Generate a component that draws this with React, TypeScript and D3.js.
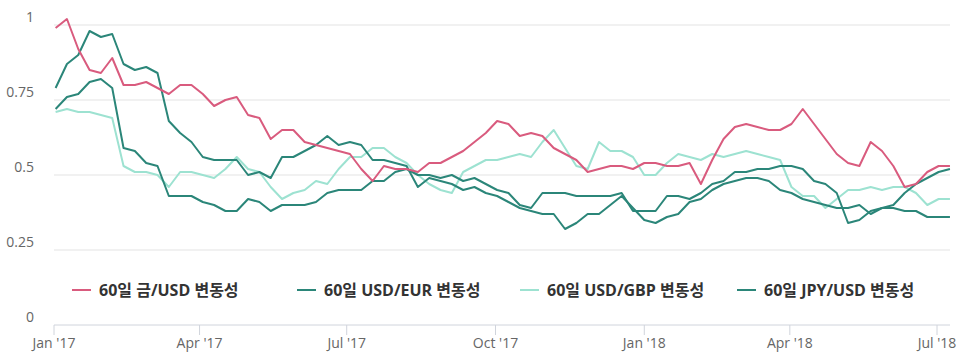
import React from "react";
import * as d3 from "d3";

// weekly readings, starting 2017-01-02
const startDate = new Date(2017, 0, 2);

const goldUsd = [
  0.99, 1.02, 0.92, 0.85, 0.84, 0.89, 0.8, 0.8, 0.81, 0.79,
  0.77, 0.8, 0.8, 0.77, 0.73, 0.75, 0.76, 0.7, 0.69, 0.62,
  0.65, 0.65, 0.61, 0.6, 0.59, 0.58, 0.57, 0.52, 0.48, 0.53,
  0.52, 0.52, 0.51, 0.54, 0.54, 0.56, 0.58, 0.61, 0.64, 0.68,
  0.67, 0.63, 0.64, 0.63, 0.59, 0.57, 0.55, 0.51, 0.52, 0.53,
  0.53, 0.52, 0.54, 0.54, 0.53, 0.53, 0.54, 0.47, 0.55, 0.62,
  0.66, 0.67, 0.66, 0.65, 0.65, 0.67, 0.72, 0.67, 0.62, 0.57,
  0.54, 0.53, 0.61, 0.58, 0.53, 0.46, 0.47, 0.51, 0.53, 0.53,
];

const usdEur = [
  0.79, 0.87, 0.9, 0.98, 0.96, 0.97, 0.87, 0.85, 0.86, 0.84,
  0.68, 0.64, 0.61, 0.56, 0.55, 0.55, 0.55, 0.5, 0.51, 0.49,
  0.56, 0.56, 0.58, 0.6, 0.63, 0.6, 0.61, 0.6, 0.55, 0.55,
  0.54, 0.53, 0.46, 0.49, 0.48, 0.47, 0.45, 0.46, 0.44, 0.43,
  0.41, 0.39, 0.38, 0.37, 0.37, 0.32, 0.34, 0.37, 0.37, 0.4,
  0.43, 0.39, 0.35, 0.34, 0.36, 0.37, 0.41, 0.42, 0.45, 0.47,
  0.48, 0.49, 0.49, 0.48, 0.45, 0.44, 0.42, 0.41, 0.4, 0.39,
  0.39, 0.4, 0.37, 0.39, 0.39, 0.38, 0.38, 0.36, 0.36, 0.36,
];

const usdGbp = [
  0.71, 0.72, 0.71, 0.71, 0.7, 0.69, 0.53, 0.51, 0.51, 0.5,
  0.46, 0.51, 0.51, 0.5, 0.49, 0.52, 0.56, 0.52, 0.51, 0.46,
  0.42, 0.44, 0.45, 0.48, 0.47, 0.52, 0.56, 0.56, 0.59, 0.59,
  0.56, 0.54, 0.5, 0.47, 0.45, 0.44, 0.51, 0.53, 0.55, 0.55,
  0.56, 0.57, 0.56, 0.61, 0.65, 0.59, 0.53, 0.52, 0.61, 0.58,
  0.58, 0.56, 0.5, 0.5, 0.54, 0.57, 0.56, 0.55, 0.57, 0.56,
  0.57, 0.58, 0.57, 0.56, 0.55, 0.46, 0.43, 0.43, 0.39, 0.42,
  0.45, 0.45, 0.46, 0.45, 0.46, 0.46, 0.44, 0.4, 0.42, 0.42,
];

const jpyUsd = [
  0.72, 0.76, 0.77, 0.81, 0.82, 0.79, 0.59, 0.58, 0.54, 0.53,
  0.43, 0.43, 0.43, 0.41, 0.4, 0.38, 0.38, 0.42, 0.41, 0.38,
  0.4, 0.4, 0.4, 0.41, 0.44, 0.45, 0.45, 0.45, 0.48, 0.48,
  0.51, 0.52, 0.5, 0.5, 0.49, 0.5, 0.48, 0.49, 0.47, 0.45,
  0.44, 0.4, 0.39, 0.44, 0.44, 0.44, 0.43, 0.43, 0.43, 0.43,
  0.44, 0.38, 0.38, 0.38, 0.43, 0.43, 0.42, 0.44, 0.47, 0.48,
  0.51, 0.51, 0.52, 0.52, 0.53, 0.53, 0.52, 0.48, 0.47, 0.44,
  0.34, 0.35, 0.38, 0.39, 0.4, 0.44, 0.47, 0.49, 0.51, 0.52,
];

const seriesNames = [
  "60일 금/USD 변동성",
  "60일 USD/EUR 변동성",
  "60일 USD/GBP 변동성",
  "60일 JPY/USD 변동성",
];
const seriesColors = ["#d95b7e", "#2b8679", "#9de2d1", "#2b8679"];
const yTicks = [0, 0.25, 0.5, 0.75, 1];
const xTickDates = [
  new Date(2017, 0, 1),
  new Date(2017, 3, 1),
  new Date(2017, 6, 1),
  new Date(2017, 9, 1),
  new Date(2018, 0, 1),
  new Date(2018, 3, 1),
  new Date(2018, 6, 1),
];

const W = 960;
const H = 362;
const plotLeft = 54;
const plotRight = 950;
const legendX = [72, 297, 520, 737];

export default function App() {
  const x = d3
    .scaleTime()
    .domain([new Date(2017, 0, 1), new Date(2018, 6, 1)])
    .range([54, 937]);
  const y = d3.scaleLinear().domain([0, 1]).range([325, 25]);

  const allSeries = [goldUsd, usdEur, usdGbp, jpyUsd];
  const line = d3
    .line<number>()
    .x((_, i) => x(d3.timeDay.offset(startDate, i * 7)))
    .y((d) => y(d));

  const fmt = d3.timeFormat("%b '%y");
  const axisFont = "'Open Sans', 'Noto Sans CJK KR', sans-serif";

  // draw order: gbp behind, then the rest
  const order = [2, 3, 1, 0];

  return (
    <div style={{ position: "absolute", left: 0, top: 0 }}>
      <svg width={W} height={H} style={{ display: "block", background: "#fff" }}>
        {yTicks
          .filter((t) => t > 0)
          .map((t) => (
            <line
              key={t}
              x1={plotLeft}
              x2={plotRight}
              y1={y(t)}
              y2={y(t)}
              stroke="#e3e3e3"
              strokeWidth={1}
            />
          ))}
        {yTicks.map((t) => (
          <text
            key={"yl" + t}
            x={34}
            y={y(t) - 3}
            textAnchor="end"
            fontFamily={axisFont}
            fontSize={14}
            fill="#666"
          >
            {t}
          </text>
        ))}
        <line x1={plotLeft} x2={plotRight} y1={y(0)} y2={y(0)} stroke="#d0d4dc" strokeWidth={1} />
        {xTickDates.map((d) => (
          <g key={d.toISOString()}>
            <line x1={x(d)} x2={x(d)} y1={y(0)} y2={y(0) + 10} stroke="#d0d4dc" strokeWidth={1} />
            <text
              x={x(d)}
              y={348}
              textAnchor="middle"
              fontFamily={axisFont}
              fontSize={14}
              fill="#666"
            >
              {fmt(d)}
            </text>
          </g>
        ))}
        {order.map((k) => (
          <path
            key={seriesNames[k]}
            d={line(allSeries[k]) || ""}
            fill="none"
            stroke={seriesColors[k]}
            strokeWidth={2}
            strokeLinejoin="round"
          />
        ))}
        {seriesNames.map((name, k) => (
          <g key={"lg" + k} transform={`translate(${legendX[k]},290)`}>
            <line x1={0} x2={19} y1={0} y2={0} stroke={seriesColors[k]} strokeWidth={2} />
            <text
              x={27}
              y={6}
              fontFamily={axisFont}
              fontSize={16}
              fontWeight="bold"
              fill="#333"
            >
              {name}
            </text>
          </g>
        ))}
      </svg>
    </div>
  );
}
